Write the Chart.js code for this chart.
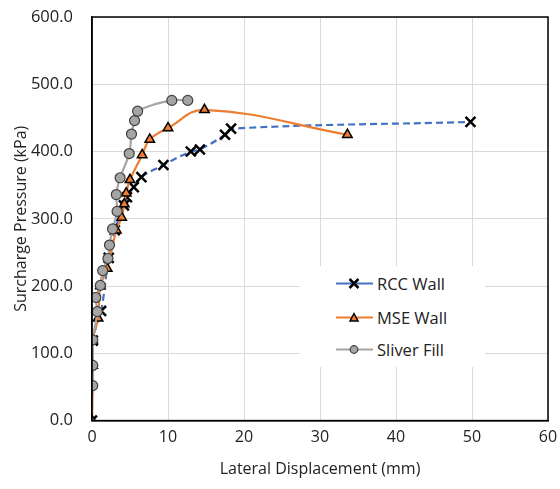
<!DOCTYPE html>
<html>
<head>
<meta charset="utf-8">
<script src="https://cdn.jsdelivr.net/npm/chart.js@4"></script>
<style>
    body { margin: 0; background: #fff; }
    #wrap { position: relative; width: 560px; height: 489px; }
    #legend {
        position: absolute; left: 300px; top: 266px; width: 185px; height: 101px;
        background: #fff; font-family: "Open Sans", sans-serif; font-size: 16.5px; color: #222;
    }
    .item { position: absolute; left: 36px; display: flex; align-items: center; height: 20px; }
    .item svg { margin-right: 4px; }
</style>
</head>
<body>
<div id="wrap">
    <canvas id="chart" width="560" height="489"></canvas>
    <div id="legend"></div>
</div>
<script>

// ==========================================
// Data
// ==========================================

const seriesNames = ["RCC Wall", "MSE Wall", "Sliver Fill"];

const rccX = [0, 0.1, 1.2, 2.2, 3.0, 4.2, 4.6, 5.5, 6.5, 9.4, 13.0, 14.2, 17.5, 18.3, 49.8];
const rccY = [0, 119, 163, 242, 283, 320, 332, 347, 362, 380, 400, 403, 425, 434, 444];

const mseX = [0, 0.1, 0.1, 0.8, 1.1, 2.0, 3.2, 3.9, 4.25, 4.5, 5.0, 6.6, 7.6, 10.0, 14.8, 33.6];
const mseY = [0, 82, 120, 152, 200, 226, 283, 302, 322, 338, 358, 395, 418, 435, 462, 425];

const sliverX = [0.1, 0.1, 0.1, 0.7, 0.5, 1.1, 1.4, 2.1, 2.3, 2.7, 3.3, 3.2, 3.7, 4.9, 5.2, 5.6, 6.0, 10.5, 12.6];
const sliverY = [52, 82, 120, 162, 183, 201, 223, 241, 261, 285, 311, 336, 361, 397, 426, 446, 460, 476, 476];

const xTicks = [0, 10, 20, 30, 40, 50, 60];
const yTicks = [0, 100, 200, 300, 400, 500, 600];

function toPoints(xs, ys) {
    return xs.map((x, i) => ({ x: x, y: ys[i] }));
}

const FONT = "'Open Sans', sans-serif";

// ==========================================
// Frame round the plot area
// ==========================================

const framePlugin = {
    id: "frame",
    afterDraw(chart) {
        const a = chart.chartArea;
        const ctx = chart.ctx;
        ctx.save();
        ctx.strokeStyle = "#000";
        ctx.lineWidth = 1.5;
        ctx.strokeRect(a.left, a.top, a.right - a.left, a.bottom - a.top);
        ctx.restore();
    }
};

// ==========================================
// Chart
// ==========================================

const styles = [
    { color: "#4472c4", dash: [7, 4], point: "crossRot", fill: "#000", border: "#000", r: 7, bw: 2.5 },
    { color: "#ed7d31", dash: [], point: "triangle", fill: "#ed7d31", border: "#000", r: 5.5, bw: 1.5 },
    { color: "#a5a5a5", dash: [], point: "circle", fill: "#a5a5a5", border: "#404040", r: 5, bw: 1.2 }
];

const allData = [toPoints(rccX, rccY), toPoints(mseX, mseY), toPoints(sliverX, sliverY)];

new Chart(document.getElementById("chart"), {
    type: "scatter",
    data: {
        datasets: seriesNames.map((name, i) => ({
            label: name,
            data: allData[i],
            showLine: true,
            tension: 0.4,
            borderColor: styles[i].color,
            borderDash: styles[i].dash,
            borderWidth: 2.2,
            pointStyle: styles[i].point,
            pointRadius: styles[i].r,
            pointBackgroundColor: styles[i].fill,
            pointBorderColor: styles[i].border,
            pointBorderWidth: styles[i].bw,
            order: 3 - i
        }))
    },
    options: {
        responsive: false,
        animation: false,
        layout: { padding: { left: 8, right: 12, top: 17, bottom: 10 } },
        plugins: {
            legend: { display: false },
            tooltip: { enabled: false }
        },
        scales: {
            x: {
                type: "linear",
                min: 0, max: 60,
                afterBuildTicks: s => { s.ticks = xTicks.map(v => ({ value: v })); },
                afterFit: s => { s.paddingLeft = 0; s.paddingRight = 0; },
                grid: { color: "#d9d9d9", drawTicks: false },
                border: { color: "#000", width: 1.5 },
                ticks: { color: "#222", padding: 7, font: { family: FONT, size: 16 } },
                title: { display: true, text: "Lateral Displacement (mm)", color: "#222", padding: { top: 6, bottom: 0 }, font: { family: FONT, size: 16 } }
            },
            y: {
                type: "linear",
                min: 0, max: 600,
                afterBuildTicks: s => { s.ticks = yTicks.map(v => ({ value: v })); },
                afterFit: s => { s.width = 84; s.paddingTop = 0; s.paddingBottom = 0; },
                grid: { color: "#d9d9d9", drawTicks: false },
                border: { color: "#000", width: 1.5 },
                ticks: { color: "#222", padding: 19, font: { family: FONT, size: 16.5 }, callback: v => v.toFixed(1) },
                title: { display: true, text: "Surcharge Pressure (kPa)", color: "#222", font: { family: FONT, size: 16 } }
            }
        }
    },
    plugins: [framePlugin]
});

// ==========================================
// Legend
// ==========================================

function legendIcon(s) {
    let mark = "";
    if (s.point === "crossRot") {
        mark = `<path d="M13.5 5 L22.5 14 M22.5 5 L13.5 14" stroke="#000" stroke-width="2.5"/>`;
    } else if (s.point === "triangle") {
        mark = `<path d="M18 5.5 L22 13 L14 13 Z" fill="${s.fill}" stroke="#000" stroke-width="1.5"/>`;
    } else {
        mark = `<circle cx="18" cy="9.5" r="3.8" fill="${s.fill}" stroke="#404040" stroke-width="1.2"/>`;
    }
    return `<svg width="37" height="19"><line x1="0" y1="9.5" x2="37" y2="9.5" stroke="${s.color}" stroke-width="2.2"/>${mark}</svg>`;
}

const legendRows = [7, 41, 73];
const legend = document.getElementById("legend");
seriesNames.forEach((name, i) => {
    legend.innerHTML += `<div class="item" style="top:${legendRows[i]}px">${legendIcon(styles[i])}<span>${name}</span></div>`;
});

</script>
</body>
</html>
